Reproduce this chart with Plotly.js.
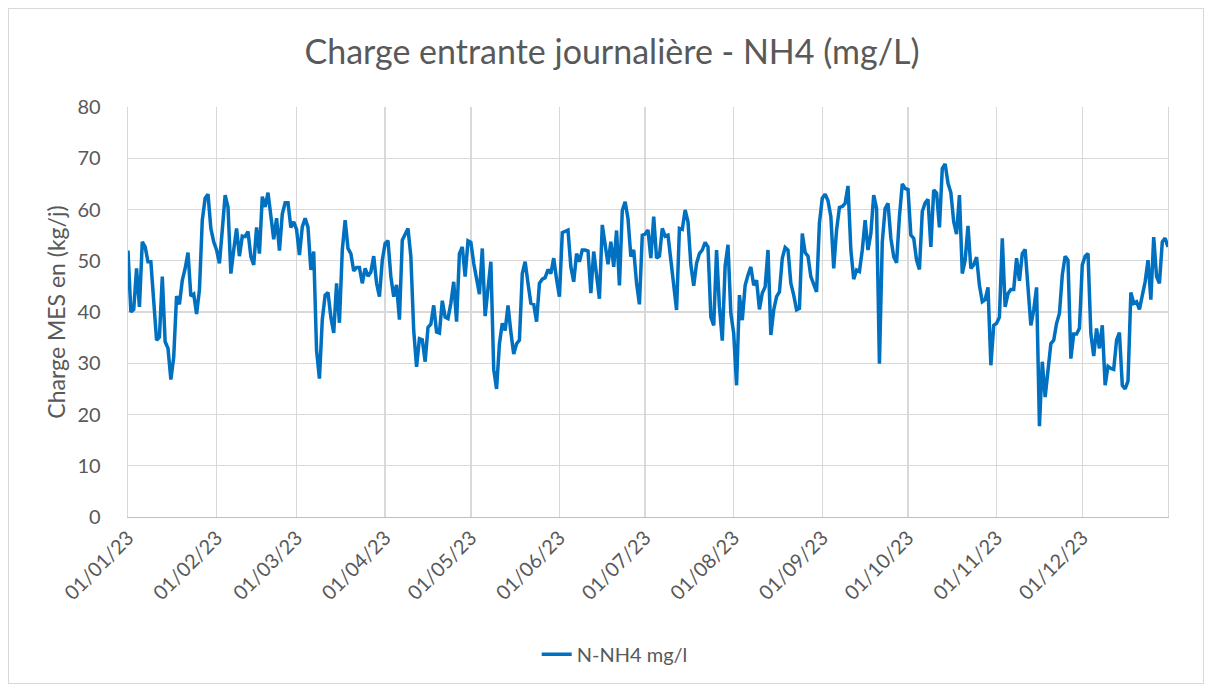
<!DOCTYPE html>
<html>
<head>
<meta charset="utf-8">
<script src="https://cdn.plot.ly/plotly-3.0.1.min.js"></script>
<style>
  html, body { margin: 0; padding: 0; background: #ffffff; }
  #wrap { position: relative; width: 1212px; height: 693px; }
  #chart { width: 1212px; height: 693px; }
  #frame { position: absolute; left: 8px; top: 8px; width: 1196px; height: 676px; border: 1px solid #d9d9d9; pointer-events: none; box-sizing: border-box; }
</style>
</head>
<body>
<div id="wrap">
  <div id="chart"></div>
  <div id="frame"></div>
</div>
<script>
// Daily series, 1 Jan 2023 -> 31 Dec 2023
const startDate = "2023-01-01";
const seriesName = "N-NH4 mg/l";
const chartTitle = "Charge entrante journalière - NH4 (mg/L)";
const yTitle = "Charge MES en (kg/j)";

const nh4 = [
  52, 40, 40.5, 48.5, 41, 53.7, 52.7, 49.8, 49.8, 43,
  34.5, 35.1, 46.9, 34.2, 32.9, 26.8, 31.2, 43.1, 41.5, 46.2,
  48.5, 51.6, 43.1, 43.5, 39.6, 44.3, 57.9, 62.2, 63, 56.3,
  53.7, 52.1, 49.5, 56, 62.8, 60.5, 47.5, 52.1, 56.3, 50.9,
  54.8, 54.7, 55.7, 50.8, 49.2, 56.5, 51.4, 62.5, 60.5, 63.3,
  58.3, 54.2, 58.3, 52, 59.1, 61.3, 61.3, 56.5, 57.6, 56.1,
  51.1, 56.6, 58.3, 56.5, 48.2, 51.8, 32.5, 27, 38.5, 43.3,
  43.8, 39, 35.9, 45.6, 37.9, 52.1, 57.9, 52.4, 51.4, 48,
  48.7, 48.7, 45.6, 48.5, 47, 47.8, 50.9, 45.6, 43, 50.1,
  53.4, 53.9, 46.9, 43, 45.3, 38.5, 54, 55, 56.3, 50.8,
  36.4, 29.3, 34.8, 34.6, 30.3, 37, 37.6, 41.3, 36.1, 35.9,
  42.2, 39, 38.7, 41.7, 45.9, 38.1, 51.4, 52.7, 46.9, 53.9,
  53.6, 49.5, 46.9, 43.5, 52.4, 39.2, 44.6, 49.8, 28.8, 25,
  33.8, 37.8, 36.4, 41.3, 36.1, 31.8, 33.8, 34.5, 47.5, 49.8,
  45.6, 41.7, 41.5, 38.1, 45.6, 46.4, 46.7, 48.3, 47.5, 50.5,
  46.4, 43, 55.5, 55.7, 56, 48.8, 45.9, 51.4, 49.8, 52.1,
  52.1, 51.9, 43.7, 51.8, 47.2, 42.6, 57, 53.4, 49.3, 53.7,
  48.8, 55.9, 45.2, 59.8, 61.5, 58.2, 50.8, 52.1, 45.6, 41.5,
  55, 55.2, 56, 50.5, 58.6, 50.5, 50.9, 56.3, 54.8, 55,
  50.1, 45.2, 40.4, 56.3, 56.1, 59.9, 57.6, 49.2, 45.1, 49.5,
  51.4, 52.1, 53.6, 52.7, 39, 37.4, 52.1, 41, 34.4, 49,
  53.1, 39.7, 35.8, 25.7, 43.3, 38.4, 45.2, 47.2, 48.8, 45.2,
  46.2, 40.5, 43.7, 44.9, 52.1, 35.5, 40.4, 43, 43.9, 50.5,
  52.6, 52.1, 45.6, 43.3, 40.4, 40.7, 55.3, 51.6, 50.9, 46.9,
  45.6, 43.9, 57.4, 62.2, 63, 61.7, 58.6, 48.5, 56, 60.4,
  60.6, 61.2, 64.6, 52.1, 46.4, 48.2, 47.9, 52.1, 57.9, 52.1,
  55.3, 62.8, 60.2, 29.9, 53.7, 60.2, 61.2, 54.4, 50.8, 49.6,
  58.6, 65, 64.1, 63.9, 55, 54.4, 50.1, 48.3, 59.6, 61.3,
  62, 52.7, 63.8, 63.2, 56.5, 68, 68.9, 65.1, 63.3, 57.6,
  55.2, 62.8, 47.5, 50.1, 56.8, 48.5, 49.2, 50.7, 45.2, 42,
  42.4, 44.8, 29.6, 37.4, 37.8, 39, 54.4, 41, 43.6, 44.4,
  44.4, 50.5, 46.1, 51.4, 52.2, 44.3, 37.4, 40.4, 44.8, 17.7,
  30.3, 23.4, 28.6, 33.8, 34.5, 37.8, 39.7, 47.2, 50.9, 50.1,
  30.9, 35.7, 35.7, 36.8, 49.2, 50.9, 51.4, 35.8, 31.4, 36.8,
  32.9, 37.4, 25.7, 29.4, 29, 28.8, 34.5, 36, 25.7, 25,
  26.5, 43.8, 41.7, 42, 40.5, 43.6, 45.9, 50.1, 42.4, 54.6,
  46.9, 45.6, 53.7, 54.4, 52.7
];

// Build the date category for each value
const dates = nh4.map((_, i) => {
  const d = new Date(Date.UTC(2023, 0, 1 + i));
  return d.toISOString().slice(0, 10);
});

const textColor = "#595959";
const gridColor = "#d9d9d9";
const fontFamily = "Lato, 'Open Sans', sans-serif";

const trace = {
  x: dates,
  y: nh4,
  type: "scatter",
  mode: "lines",
  name: seriesName,
  line: { color: "#0070C0", width: 3.5, shape: "linear" },
  hoverinfo: "skip"
};

const layout = {
  width: 1212,
  height: 693,
  margin: { l: 128, r: 44, t: 107, b: 176 },
  paper_bgcolor: "#ffffff",
  plot_bgcolor: "#ffffff",
  font: { family: fontFamily, color: textColor },
  title: {
    text: chartTitle,
    font: { family: fontFamily, size: 34, color: textColor },
    x: 0.505, xanchor: "center",
    y: 0.925, yanchor: "middle"
  },
  xaxis: {
    type: "date",
    range: [dates[0], dates[dates.length - 1]],
    tick0: startDate,
    dtick: "M1",
    tickformat: "%d/%m/%y",
    tickangle: -45,
    tickfont: { family: fontFamily, size: 20, color: textColor },
    showgrid: true,
    gridcolor: gridColor,
    gridwidth: 1.3,
    showline: true,
    linecolor: "#bfbfbf",
    linewidth: 1.3,
    ticks: "",
    zeroline: false,
    fixedrange: true
  },
  yaxis: {
    range: [0, 80],
    dtick: 10,
    tick0: 0,
    tickfont: { family: fontFamily, size: 20, color: textColor },
    ticks: "",
    ticklabelstandoff: 22,
    showgrid: true,
    gridcolor: gridColor,
    gridwidth: 1.3,
    showline: true,
    mirror: true,
    linecolor: gridColor,
    linewidth: 1.3,
    zeroline: false,
    title: {
      text: yTitle,
      font: { family: fontFamily, size: 23, color: textColor },
      standoff: 5
    },
    fixedrange: true
  },
  showlegend: true,
  legend: {
    orientation: "h",
    x: 0.468, xanchor: "center",
    y: -0.335, yanchor: "middle",
    font: { family: fontFamily, size: 20, color: textColor },
    bgcolor: "rgba(0,0,0,0)"
  }
};

Plotly.newPlot("chart", [trace], layout, { displayModeBar: false, staticPlot: true });
</script>
</body>
</html>
